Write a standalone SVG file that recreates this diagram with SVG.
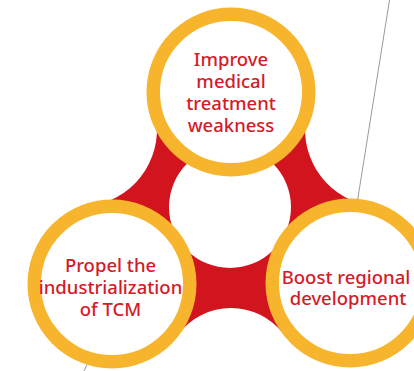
<svg xmlns="http://www.w3.org/2000/svg" width="414" height="371" viewBox="0 0 414 371">
  <style>
    .ring { fill: #ffffff; stroke: #F7B52E; stroke-width: 13.5; }
    .lbl { font-family: "Noto Sans", "Open Sans", sans-serif; font-size: 18.5px; font-weight: 500; fill: #D51A28; text-anchor: middle; }
    .guide { stroke: #9a9a9a; stroke-width: 1; fill: none; }
  </style>
  <rect width="414" height="371" fill="#ffffff"/>
  <g id="connectors">
    <line class="guide" x1="389.5" y1="0" x2="356" y2="210"/>
    <line class="guide" x1="93" y1="352" x2="84" y2="371"/>
    <path id="red-core" fill="#D2141E" d="M231,92 L154.7,110.9 A77,77 0 0 1 95.6,204.9 L112,284 L178.4,334.2 A66,66 0 0 1 283.4,333.9 L350,283 L366.3,204.9 A77,77 0 0 1 307.3,110.9 Z"/>
    <circle cx="230" cy="207" r="61" fill="#ffffff"/>
  </g>
  <g id="node-top">
    <circle class="ring" cx="231" cy="92" r="77.75"/>
    <text class="lbl" x="231" y="66">Improve</text>
    <text class="lbl" x="231" y="88">medical</text>
    <text class="lbl" x="231" y="110">treatment</text>
    <text class="lbl" x="231" y="132">weakness</text>
  </g>
  <g id="node-left">
    <circle class="ring" cx="112" cy="284" r="77.75"/>
    <text class="lbl" x="110.5" y="272">Propel the</text>
    <text class="lbl" x="110.5" y="294">industrialization</text>
    <text class="lbl" x="110.5" y="316">of TCM</text>
  </g>
  <g id="node-right">
    <circle class="ring" cx="350" cy="283" r="77.75"/>
    <text class="lbl" x="346" y="284">Boost regional</text>
    <text class="lbl" x="348" y="305">development</text>
  </g>
</svg>
